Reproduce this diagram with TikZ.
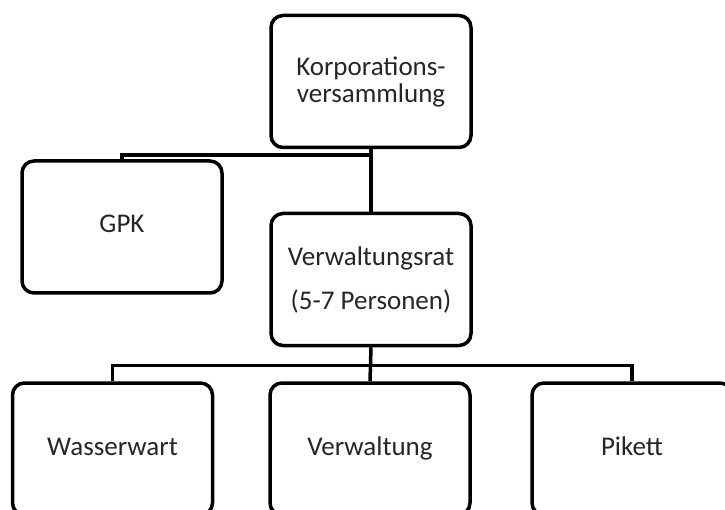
\documentclass[tikz,border=0pt]{standalone}
\usepackage{fontspec}
\setmainfont{Carlito}
\tikzset{
  orgbox/.style={draw, line width=3.5pt, rounded corners=12pt, fill=white,
    minimum width=200pt, minimum height=132pt, align=center,
    font=\fontsize{27}{27}\selectfont, text=black!85},
  leafbox/.style={orgbox, text height=18pt, text depth=6pt},
  orgline/.style={line width=3.5pt}
}
\begin{document}
\begin{tikzpicture}[x=1pt,y=1pt]
\useasboundingbox (0,0) rectangle (725,509);
\clip (0,0) rectangle (725,509);

\node[orgbox] (kv)  at (371,427.5) {Korporations-\\versammlung};
\node[leafbox] (gpk) at (122,282)  {GPK};
\node[orgbox] (vr)  at (371,229.5) {Verwaltungsrat\\[17pt](5-7 Personen)};

\node[leafbox] (ww) at (112.5,60) {Wasserwart};
\node[leafbox] (vw) at (370,60)   {Verwaltung};
\node[leafbox] (pk) at (632,60)   {Pikett};

\coordinate (bus1) at ([yshift=-6pt]kv.south);
\coordinate (bus2) at ([yshift=-18pt]vr.south);

\draw[orgline] (kv.south) -- (vr.north);
\draw[orgline] (bus1) -| (gpk.north);
\draw[orgline] (vr.south) -- (vw.north);
\draw[orgline] (ww.north) |- (bus2) -| (pk.north);
\end{tikzpicture}
\end{document}
